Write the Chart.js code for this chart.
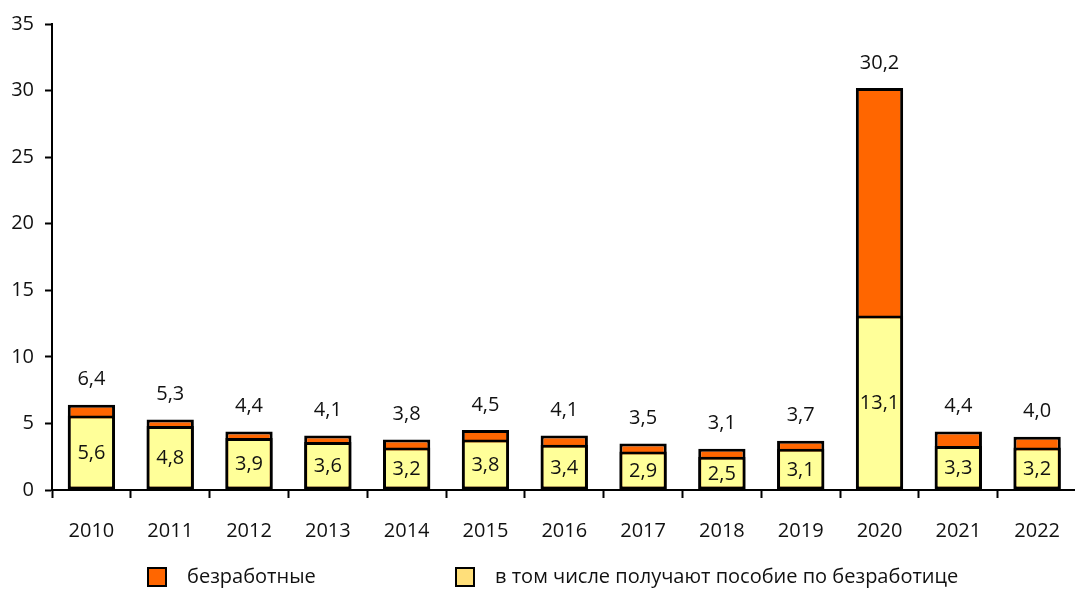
<!DOCTYPE html>
<html>
<head>
<meta charset="utf-8">
<script src="https://cdn.jsdelivr.net/npm/chart.js@4/dist/chart.umd.min.js"></script>
<style>
  html, body { margin: 0; padding: 0; background: #fff; overflow: hidden; }
  #wrap { width: 1081px; height: 593px; }
</style>
</head>
<body>
<div id="wrap"><canvas id="c" width="1081" height="593"></canvas></div>
<script>
const categories = ['2010','2011','2012','2013','2014','2015','2016','2017','2018','2019','2020','2021','2022'];
const unemployed = [6.4, 5.3, 4.4, 4.1, 3.8, 4.5, 4.1, 3.5, 3.1, 3.7, 30.2, 4.4, 4.0];
const withBenefit = [5.6, 4.8, 3.9, 3.6, 3.2, 3.8, 3.4, 2.9, 2.5, 3.1, 13.1, 3.3, 3.2];
const seriesNames = ['безработные', 'в том числе получают пособие по безработице'];
const yTicks = [0, 5, 10, 15, 20, 25, 30, 35];

const FONT = '"Open Sans", "DejaVu Sans", sans-serif';
const FS = 20;
const TXT = '#111';
const fmt = v => v.toFixed(1).replace('.', ',');

const labelPlugin = {
  id: 'valueLabels',
  afterDatasetsDraw(chart) {
    const ctx = chart.ctx;
    ctx.save();
    ctx.font = FS + 'px ' + FONT;
    ctx.fillStyle = TXT;
    ctx.textAlign = 'center';
    ctx.textBaseline = 'middle';
    const mTot = chart.getDatasetMeta(0);
    const mBen = chart.getDatasetMeta(1);
    mTot.data.forEach((el, i) => {
      ctx.fillText(fmt(unemployed[i]), el.x, el.y - 25);
    });
    mBen.data.forEach((el, i) => {
      ctx.fillText(fmt(withBenefit[i]), el.x, (el.y + el.base) / 2 + 1);
    });
    ctx.restore();
  }
};

const legendPlugin = {
  id: 'customLegend',
  afterDraw(chart) {
    const ctx = chart.ctx;
    const items = [
      { text: seriesNames[0], fill: '#FF6600', bx: 147, tx: 187 },
      { text: seriesNames[1], fill: '#FFDF7A', bx: 455, tx: 495 }
    ];
    ctx.save();
    ctx.font = FS + 'px ' + FONT;
    ctx.textBaseline = 'middle';
    ctx.textAlign = 'left';
    items.forEach(it => {
      ctx.fillStyle = it.fill;
      ctx.fillRect(it.bx, 567, 20, 20);
      ctx.strokeStyle = '#000';
      ctx.lineWidth = 2;
      ctx.strokeRect(it.bx + 1, 568, 18, 18);
      ctx.fillStyle = TXT;
      ctx.fillText(it.text, it.tx, 577);
    });
    ctx.restore();
  }
};

new Chart(document.getElementById('c'), {
  type: 'bar',
  data: {
    labels: categories,
    datasets: [
      {
        label: seriesNames[0],
        data: unemployed,
        backgroundColor: '#FF6600',
        borderColor: '#000',
        borderWidth: 3,
        borderSkipped: false,
        order: 2
      },
      {
        label: seriesNames[1],
        data: withBenefit,
        backgroundColor: '#FFFF99',
        borderColor: '#000',
        borderWidth: 3,
        borderSkipped: false,
        order: 1
      }
    ]
  },
  options: {
    responsive: false,
    animation: false,
    layout: { padding: { top: 24, left: 0, right: 0, bottom: 0 } },
    datasets: { bar: { barPercentage: 0.6, categoryPercentage: 1.0 } },
    plugins: {
      legend: { display: false },
      tooltip: { enabled: false }
    },
    scales: {
      x: {
        stacked: true,
        offset: true,
        afterFit(scale) { scale.height = 103; },
        grid: {
          offset: true,
          drawOnChartArea: false,
          drawTicks: true,
          tickLength: 8,
          tickWidth: 2,
          tickColor: '#000'
        },
        border: { display: true, color: '#000', width: 2 },
        ticks: {
          color: TXT,
          font: { family: FONT, size: FS },
          padding: 21,
          maxRotation: 0,
          autoSkip: false
        }
      },
      y: {
        stacked: false,
        min: 0,
        max: 35,
        afterFit(scale) { scale.width = 52; },
        afterBuildTicks(scale) { scale.ticks = yTicks.map(v => ({ value: v })); },
        grid: {
          drawOnChartArea: false,
          drawTicks: true,
          tickLength: 7,
          tickWidth: 2,
          tickColor: '#000'
        },
        border: { display: true, color: '#000', width: 2 },
        ticks: {
          color: TXT,
          font: { family: FONT, size: FS },
          padding: 11,
          callback: v => String(v)
        }
      }
    }
  },
  plugins: [labelPlugin, legendPlugin]
});
</script>
</body>
</html>
